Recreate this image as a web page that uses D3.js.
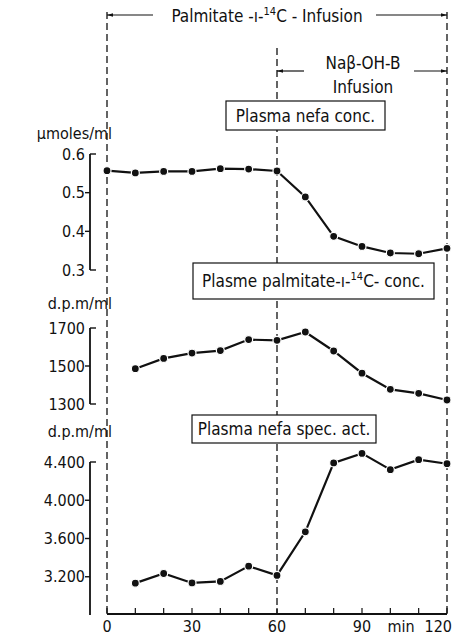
<!DOCTYPE html>
<html>
<head>
<meta charset="utf-8">
<script src="https://cdn.jsdelivr.net/npm/d3@7"></script>
<style>
  body { margin: 0; background: #fff; }
  svg { display: block; }
  text { font-family: "DejaVu Sans Condensed", "DejaVu Sans", sans-serif; fill: #111; }
</style>
</head>
<body>
<div id="chart"></div>
<script>

var minutes = [0, 10, 20, 30, 40, 50, 60, 70, 80, 90, 100, 110, 120];

// plasma nefa conc. (umoles/ml)
var nefaConc = [0.557, 0.551, 0.555, 0.555, 0.562, 0.561, 0.556, 0.489, 0.387, 0.361, 0.344, 0.342, 0.356];

// plasma palmitate-1-14C conc. (d.p.m/ml), no sample at 0 min
var palmMinutes = [10, 20, 30, 40, 50, 60, 70, 80, 90, 100, 110, 120];
var palmConc = [1486, 1540, 1568, 1581, 1639, 1635, 1679, 1579, 1462, 1377, 1356, 1321];

// plasma nefa spec. act. (d.p.m/ml)
var specMinutes = [10, 20, 30, 40, 50, 60, 70, 80, 90, 100, 110, 120];
var specAct = [3133, 3234, 3135, 3151, 3311, 3214, 3670, 4390, 4490, 4320, 4424, 4382];

var xTickLabels = ["0", "30", "60", "90", "120"];
var nefaTicks = [0.3, 0.4, 0.5, 0.6];
var palmTicks = [1300, 1500, 1700];
var specTicks = [3200, 3600, 4000, 4400];

var width = 453, height = 637;

var svg = d3.select("#chart").append("svg")
    .attr("width", width)
    .attr("height", height);

var x = d3.scaleLinear()
    .domain([0, 120])
    .range([107, 447]);

var axisX = 90;   // left position of the value axes
var baseY = 614;  // time axis

// panels: scale, ticks, label format
var panels = [
    {y: d3.scaleLinear().domain([0.3, 0.6]).range([270, 154]), ticks: nefaTicks,
     fmt: d3.format(".1f"), unit: "\u03bcmoles/ml", unitY: 139,
     xs: minutes, vals: nefaConc,
     box: {text: "Plasma nefa conc.", x0: 226, x1: 385, y0: 101, y1: 130}},
    {y: d3.scaleLinear().domain([1300, 1700]).range([404, 328]), ticks: palmTicks,
     fmt: d3.format("d"), unit: "d.p.m/ml", unitY: 309,
     xs: palmMinutes, vals: palmConc,
     box: {text: "Plasme palmitate-\u0131-", sup: "14", after: "C- conc.", x0: 193, x1: 434, y0: 263, y1: 299}},
    {y: d3.scaleLinear().domain([2800, 4400]).range([615, 462]), ticks: specTicks,
     fmt: function(d) { return d3.format(",")(d).replace(",", "."); },
     unit: "d.p.m/ml", unitY: 437,
     xs: specMinutes, vals: specAct,
     box: {text: "Plasma nefa spec. act.", x0: 192, x1: 376, y0: 415, y1: 443}}
];

// dashed vertical markers
var dash = "7,4";
svg.append("line").attr("x1", x(0)).attr("x2", x(0)).attr("y1", 12).attr("y2", baseY)
    .attr("stroke", "#111").attr("stroke-width", 1.3).attr("stroke-dasharray", dash);
svg.append("line").attr("x1", x(60)).attr("x2", x(60)).attr("y1", 48).attr("y2", baseY)
    .attr("stroke", "#111").attr("stroke-width", 1.3).attr("stroke-dasharray", dash);
svg.append("line").attr("x1", x(120)).attr("x2", x(120)).attr("y1", 12).attr("y2", baseY)
    .attr("stroke", "#111").attr("stroke-width", 1.3).attr("stroke-dasharray", dash);

// arrow heads
var defs = svg.append("defs");
defs.append("marker")
    .attr("id", "arrow")
    .attr("viewBox", "0 0 10 10")
    .attr("refX", 10).attr("refY", 5)
    .attr("markerWidth", 9).attr("markerHeight", 5)
    .attr("orient", "auto-start-reverse")
    .append("path").attr("d", "M0,2 L10,5 L0,8 Z").attr("fill", "#111");

function arrow(xa, xb, y) {
    svg.append("line").attr("x1", xa).attr("x2", xb).attr("y1", y).attr("y2", y)
        .attr("stroke", "#111").attr("stroke-width", 1.2)
        .attr("marker-end", "url(#arrow)");
}

// top annotation
arrow(153, x(0), 15);
arrow(376, x(120), 15);
var t1 = svg.append("text").attr("x", 267).attr("y", 22).attr("text-anchor", "middle")
    .style("font-size", "17px");
t1.append("tspan").text("Palmitate -\u0131-");
t1.append("tspan").attr("dy", -7).style("font-size", "11px").text("14");
t1.append("tspan").attr("dy", 7).text("C - Infusion");

// second annotation
arrow(304, x(60), 71);
arrow(414, x(120), 71);
svg.append("text").attr("x", 363).attr("y", 69).attr("text-anchor", "middle")
    .style("font-size", "17px").text("Na\u03b2-OH-B");
svg.append("text").attr("x", 363).attr("y", 93).attr("text-anchor", "middle")
    .style("font-size", "17px").text("Infusion");

panels.forEach(function(p) {
    var r = p.y.range();

    // axis line
    svg.append("line").attr("x1", axisX).attr("x2", axisX).attr("y1", r[1]).attr("y2", r[0])
        .attr("stroke", "#111").attr("stroke-width", 1.8);

    var tick = svg.append("g").selectAll("g").data(p.ticks).join("g")
        .attr("transform", function(d) { return "translate(0," + p.y(d) + ")"; });
    tick.append("line")
        .attr("x1", function(d) {
            var end = (d === p.y.domain()[0] || d === p.y.domain()[1]);
            return end ? axisX : axisX - 5;
        })
        .attr("x2", function(d) {
            var end = (d === p.y.domain()[0] || d === p.y.domain()[1]);
            return end ? axisX + 6 : axisX;
        })
        .attr("stroke", "#111").attr("stroke-width", 1.4);
    tick.append("text")
        .attr("x", axisX - 5).attr("dy", "0.35em")
        .attr("text-anchor", "end")
        .style("font-size", "16px")
        .text(p.fmt);

    // unit label
    svg.append("text").attr("x", 112).attr("y", p.unitY).attr("text-anchor", "end")
        .style("font-size", "16px").text(p.unit);

    // title box
    var b = p.box;
    svg.append("rect").attr("x", b.x0).attr("y", b.y0)
        .attr("width", b.x1 - b.x0).attr("height", b.y1 - b.y0)
        .attr("fill", "#fff").attr("stroke", "#111").attr("stroke-width", 1.2);
    var bt = svg.append("text").attr("x", (b.x0 + b.x1) / 2).attr("y", (b.y0 + b.y1) / 2 + 6)
        .attr("text-anchor", "middle").style("font-size", "17px");
    bt.append("tspan").text(b.text);
    if (b.sup) {
        bt.append("tspan").attr("dy", -7).style("font-size", "11px").text(b.sup);
        bt.append("tspan").attr("dy", 7).text(b.after);
    }

    // data line
    var pts = p.xs.map(function(m, i) { return [m, p.vals[i]]; });
    var line = d3.line()
        .x(function(d) { return x(d[0]); })
        .y(function(d) { return p.y(d[1]); });
    svg.append("path").datum(pts)
        .attr("d", line)
        .attr("fill", "none").attr("stroke", "#111").attr("stroke-width", 2.2);
    svg.append("g").selectAll("circle").data(pts).join("circle")
        .attr("cx", function(d) { return x(d[0]); })
        .attr("cy", function(d) { return p.y(d[1]); })
        .attr("r", 4)
        .attr("fill", "#111")
        .attr("stroke", "#fff").attr("stroke-width", 1.2);
});

// time axis
svg.append("line").attr("x1", x(0)).attr("x2", x(120)).attr("y1", baseY).attr("y2", baseY)
    .attr("stroke", "#111").attr("stroke-width", 1.8);
svg.append("g").selectAll("line").data(minutes).join("line")
    .attr("x1", function(d) { return x(d); }).attr("x2", function(d) { return x(d); })
    .attr("y1", baseY).attr("y2", baseY - 6)
    .attr("stroke", "#111").attr("stroke-width", 1.2);
svg.append("g").selectAll("text").data(xTickLabels).join("text")
    .attr("x", function(d) { return +d === 120 ? 452 : x(+d); })
    .attr("y", 632)
    .attr("text-anchor", function(d) { return +d === 120 ? "end" : "middle"; })
    .style("font-size", "16px")
    .text(function(d) { return d; });
svg.append("text").attr("x", 401).attr("y", 632).attr("text-anchor", "middle")
    .style("font-size", "16px").text("min");

</script>
</body>
</html>
